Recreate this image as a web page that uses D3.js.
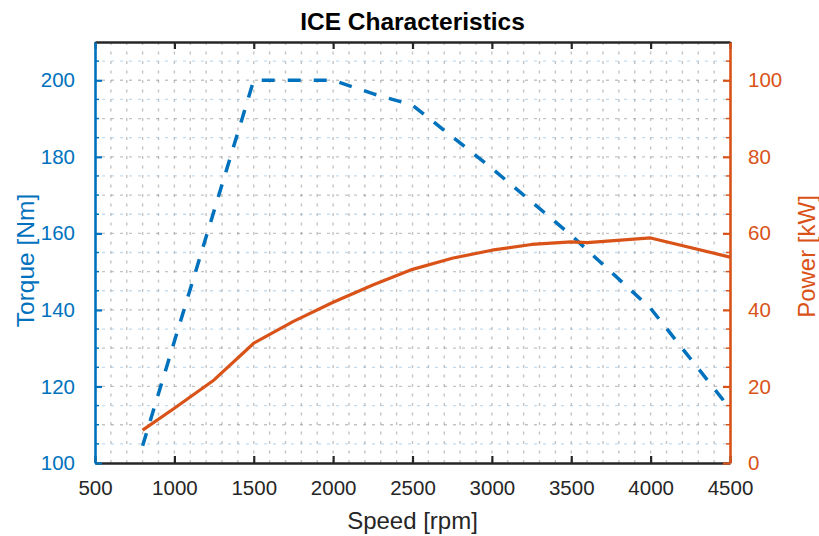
<!DOCTYPE html>
<html>
<head>
<meta charset="utf-8">
<script src="https://cdn.jsdelivr.net/npm/d3@7"></script>
<style>
body{margin:0;background:#fff}
text{font-family:Arial,"Liberation Sans",Helvetica,sans-serif}
</style>
</head>
<body>
<svg id="chart"></svg>
<script>
// torque curve (blue dashed, left axis)
var torqueSpeed = [800, 1500, 2000, 2250, 2500, 3000, 3500, 4000, 4500]
var torque = [104.5, 200, 200, 196.5, 193.5, 177, 159.5, 140.4, 114.2]

// power curve (orange, right axis)
var powerSpeed = [800, 1000, 1250, 1500, 1750, 2000, 2250, 2500, 2750, 3000, 3250, 3500, 3600, 4000, 4500]
var power = [8.6, 14.3, 21.7, 31.3, 37, 42, 46.5, 50.6, 53.5, 55.6, 57.1, 57.8, 57.6, 58.8, 53.8]

var xTicks = [500, 1000, 1500, 2000, 2500, 3000, 3500, 4000, 4500]
var torqueTicks = [100, 120, 140, 160, 180, 200]
var powerTicks = [0, 20, 40, 60, 80, 100]

var blue = '#0072BD', orange = '#D95319', ink = '#262626'

var width = 819, height = 536
var margin = {left: 95, right: 89, top: 42, bottom: 73}
var iw = width - margin.left - margin.right
var ih = height - margin.top - margin.bottom

var svg = d3.select('#chart').attr('width', width).attr('height', height)
var g = svg.append('g').attr('transform', `translate(${margin.left},${margin.top})`)

var x = d3.scaleLinear().domain([500, 4500]).range([0, iw])
var yL = d3.scaleLinear().domain([100, 210]).range([ih, 0])
var yR = d3.scaleLinear().domain([0, 110]).range([ih, 0])

// dotted minor grid
var gridG = g.append('g')
gridG.selectAll('line.vx').data(d3.range(600, 4500, 100)).join('line')
  .attr('x1', d => x(d)).attr('x2', d => x(d))
  .attr('y1', 0).attr('y2', ih)
  .attr('stroke', '#8a8a8a').attr('stroke-width', 1.4)
  .attr('stroke-dasharray', '3,6.5').attr('opacity', 0.5)

gridG.selectAll('line.hy').data(d3.range(105, 210, 5)).join('line')
  .attr('x1', 0).attr('x2', iw)
  .attr('y1', d => yL(d)).attr('y2', d => yL(d))
  .attr('stroke', d => d % 10 == 0 ? '#8a8a8a' : '#8dbbe0')
  .attr('stroke-width', 1.3)
  .attr('stroke-dasharray', '3,6').attr('stroke-dashoffset', 2)
  .attr('opacity', 0.5)

// curves
var torqueLine = d3.line().x((d, i) => x(torqueSpeed[i])).y(d => yL(d))
var powerLine = d3.line().x((d, i) => x(powerSpeed[i])).y(d => yR(d))

g.append('path').datum(torque)
  .attr('d', torqueLine)
  .attr('fill', 'none').attr('stroke', blue)
  .attr('stroke-width', 3.5).attr('stroke-dasharray', '13,13')

g.append('path').datum(power)
  .attr('d', powerLine)
  .attr('fill', 'none').attr('stroke', orange)
  .attr('stroke-width', 3.2).attr('stroke-linejoin', 'round')

// axes
var tickLen = 7
var xAxisB = d3.axisBottom(x).tickValues(xTicks).tickFormat(d3.format('d'))
  .tickSizeInner(-tickLen).tickSizeOuter(0).tickPadding(tickLen + 12)
var xAxisT = d3.axisTop(x).tickValues(xTicks).tickSizeInner(-tickLen).tickSizeOuter(0).tickFormat('')
var yAxisL = d3.axisLeft(yL).tickValues(torqueTicks).tickSizeInner(-tickLen).tickSizeOuter(0).tickPadding(tickLen + 13)
var yAxisR = d3.axisRight(yR).tickValues(powerTicks).tickSizeInner(-tickLen).tickSizeOuter(0).tickPadding(tickLen + 12)

function styleAxis(sel, color){
  sel.select('.domain').attr('stroke', color).attr('stroke-width', 2.6)
  sel.selectAll('.tick line').attr('stroke', color).attr('stroke-width', 2.2)
  sel.selectAll('.tick text').attr('fill', color).attr('font-size', 20.5)
  sel.attr('font-family', null)
}

var xb = g.append('g').attr('transform', `translate(0,${ih})`).call(xAxisB)
styleAxis(xb, ink)
xb.selectAll('.tick text').attr('dy', '0.65em')
var xt = g.append('g').call(xAxisT)
styleAxis(xt, ink)

// minor ticks on the y axes
g.append('g').selectAll('line').data(d3.range(105, 210, 5).filter(d => d % 20 != 0)).join('line')
  .attr('x1', 0).attr('x2', 4).attr('y1', d => yL(d)).attr('y2', d => yL(d))
  .attr('stroke', blue).attr('stroke-width', 1.5)
g.append('g').selectAll('line').data(d3.range(5, 110, 5).filter(d => d % 20 != 0)).join('line')
  .attr('x1', iw).attr('x2', iw - 4).attr('y1', d => yR(d)).attr('y2', d => yR(d))
  .attr('stroke', orange).attr('stroke-width', 1.5)

var yl = g.append('g').call(yAxisL)
styleAxis(yl, blue)
var yr = g.append('g').attr('transform', `translate(${iw},0)`).call(yAxisR)
styleAxis(yr, orange)
yr.selectAll('.tick text').attr('dx', -1)

// labels
svg.append('text')
  .attr('x', margin.left + iw / 2).attr('y', 30)
  .attr('text-anchor', 'middle').attr('font-weight', 'bold').attr('font-size', 24.5)
  .attr('fill', '#000').text('ICE Characteristics')

svg.append('text')
  .attr('x', margin.left + iw / 2).attr('y', 529)
  .attr('text-anchor', 'middle').attr('font-size', 24)
  .attr('fill', ink).text('Speed [rpm]')

svg.append('text')
  .attr('transform', `translate(34,${margin.top + ih / 2 + 8}) rotate(-90)`)
  .attr('text-anchor', 'middle').attr('font-size', 24.5)
  .attr('fill', blue).text('Torque [Nm]')

svg.append('text')
  .attr('transform', `translate(815,${margin.top + ih / 2 + 4}) rotate(-90)`)
  .attr('text-anchor', 'middle').attr('font-size', 24)
  .attr('fill', orange).text('Power [kW]')
</script>
</body>
</html>
